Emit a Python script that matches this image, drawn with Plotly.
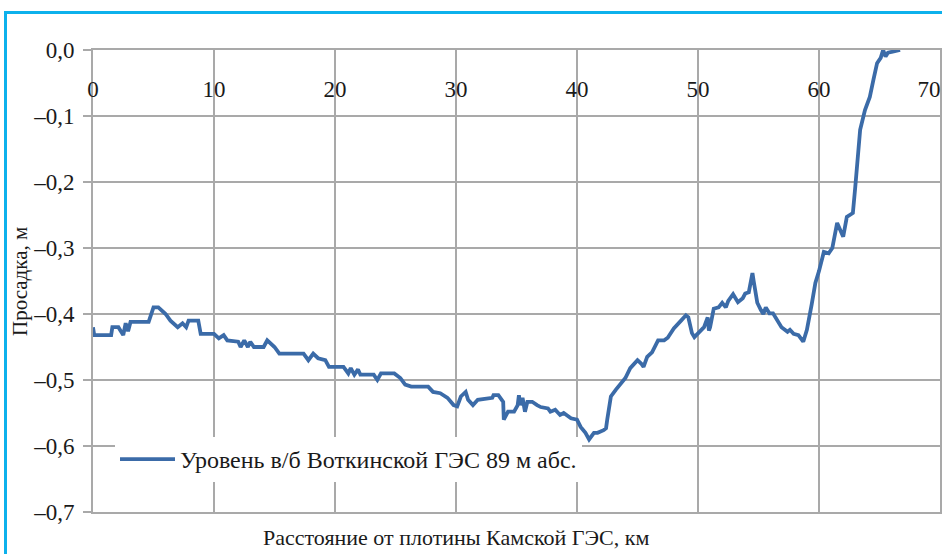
import plotly.graph_objects as go

# Distance from the Kama HPP dam, km
distance_km = [
    0.0, 0.1, 1.5, 1.6, 2.1, 2.5, 2.7, 2.9, 3.1, 4.6, 5.0, 5.4, 6.0, 6.4, 7.0, 7.4,
    7.7, 7.9, 8.7, 8.9, 10.0, 10.4, 10.8, 11.1, 12.0, 12.2, 12.5, 12.8, 13.0, 13.3,
    14.1, 14.4, 15.0, 15.4, 17.4, 17.8, 18.2, 18.6, 19.2, 19.5, 20.7, 21.1, 21.3,
    21.6, 21.9, 22.1, 23.2, 23.5, 23.8, 24.9, 25.4, 25.8, 26.3, 27.7, 28.1, 28.7,
    29.3, 29.8, 30.1, 30.4, 30.8, 31.0, 31.4, 31.8, 33.0, 33.1, 33.5, 33.9, 33.95,
    34.3, 34.8, 35.1, 35.2, 35.3, 35.5, 35.7, 35.9, 36.3, 36.7, 37.0, 37.6, 37.8,
    38.2, 38.6, 38.9, 39.5, 40.0, 40.3, 40.7, 41.0, 41.4, 41.7, 42.2, 42.4, 42.5,
    42.8, 43.2, 43.6, 44.0, 44.4, 45.0, 45.3, 45.5, 45.8, 46.2, 46.7, 47.2, 47.5,
    48.0, 48.6, 49.0, 49.2, 49.5, 49.7, 50.0, 50.5, 50.8, 50.9, 51.0, 51.3, 51.7,
    52.0, 52.3, 52.5, 52.9, 53.3, 53.7, 53.9, 54.2, 54.5, 54.6, 54.9, 55.2, 55.4,
    55.6, 55.9, 56.2, 56.6, 56.9, 57.4, 57.6, 57.9, 58.3, 58.7, 59.0, 59.4, 59.7,
    60.0, 60.4, 60.8, 61.1, 61.5, 61.8, 62.0, 62.3, 62.8, 63.0, 63.2, 63.4, 63.8,
    64.2, 64.5, 64.8, 65.1, 65.3, 65.5, 65.7, 66.0, 66.7,
]

# Drawdown of the level at the Votkinsk HPP headwater of 89 m abs., m
drawdown_m = [
    -0.420, -0.432, -0.432, -0.420, -0.420, -0.432, -0.414, -0.426, -0.412, -0.412,
    -0.390, -0.390, -0.400, -0.410, -0.420, -0.414, -0.420, -0.410, -0.410, -0.430,
    -0.430, -0.437, -0.432, -0.440, -0.442, -0.450, -0.440, -0.450, -0.442, -0.450,
    -0.450, -0.440, -0.450, -0.460, -0.460, -0.470, -0.460, -0.467, -0.470, -0.480,
    -0.480, -0.490, -0.482, -0.492, -0.484, -0.492, -0.492, -0.500, -0.490, -0.490,
    -0.497, -0.507, -0.510, -0.510, -0.518, -0.520, -0.527, -0.538, -0.540, -0.525,
    -0.518, -0.530, -0.538, -0.530, -0.527, -0.523, -0.523, -0.533, -0.560, -0.548,
    -0.548, -0.538, -0.523, -0.538, -0.527, -0.548, -0.533, -0.533, -0.538, -0.541,
    -0.543, -0.548, -0.545, -0.553, -0.550, -0.558, -0.560, -0.571, -0.580, -0.590,
    -0.580, -0.580, -0.576, -0.573, -0.560, -0.525, -0.515, -0.505, -0.497, -0.482,
    -0.470, -0.475, -0.480, -0.465, -0.458, -0.440, -0.440, -0.436, -0.422, -0.410,
    -0.402, -0.405, -0.429, -0.435, -0.430, -0.420, -0.405, -0.425, -0.420, -0.392,
    -0.390, -0.383, -0.390, -0.380, -0.370, -0.382, -0.376, -0.369, -0.367, -0.338,
    -0.350, -0.383, -0.394, -0.400, -0.390, -0.399, -0.399, -0.410, -0.420, -0.427,
    -0.424, -0.430, -0.432, -0.442, -0.424, -0.385, -0.353, -0.335, -0.306, -0.308,
    -0.300, -0.262, -0.277, -0.283, -0.253, -0.247, -0.207, -0.162, -0.121, -0.091,
    -0.071, -0.045, -0.020, -0.012, 0.000, -0.010, -0.004, -0.003, 0.000,
]

x_ticks = [0, 10, 20, 30, 40, 50, 60, 70]
y_ticks = [0.0, -0.1, -0.2, -0.3, -0.4, -0.5, -0.6, -0.7]
y_tick_labels = ["0,0", "–0,1", "–0,2", "–0,3", "–0,4", "–0,5", "–0,6", "–0,7"]

series_name = "Уровень в/б Воткинской ГЭС 89 м абс."
x_title = "Расстояние от плотины Камской ГЭС, км"
y_title = "Просадка, м"

FONT = "Liberation Serif"
TEXT = "#1a1a1a"
GRID = "#a9a9a9"
LINE = "#3b6ba8"

W, H = 942, 554
ml, mr, mt, mb = 93, 2, 50, 42
pw, ph = W - ml - mr, H - mt - mb


def px_x(px):
    return (px - ml) / pw


def px_y(py):
    return 1 - (py - mt) / ph


fig = go.Figure()
fig.add_trace(go.Scatter(
    x=distance_km, y=drawdown_m, mode="lines", name=series_name,
    line=dict(color=LINE, width=3.8),
))
# invisible companion traces that carry the distance labels on xaxis2 / xaxis3
for axis_ref in ("x2", "x3"):
    fig.add_trace(go.Scatter(
        x=[x_ticks[0], x_ticks[-1]], y=[y_ticks[0], y_ticks[0]], xaxis=axis_ref,
        mode="lines", line=dict(width=0), hoverinfo="skip", showlegend=False,
    ))

label_axis = dict(
    range=[0, 70], overlaying="x", side="bottom", anchor="free",
    position=px_y(73), ticks="", showgrid=False, showline=False,
    zeroline=False, ticklabeloverflow="allow", automargin=False,
    tickfont=dict(family=FONT, size=23, color=TEXT),
)

fig.update_layout(
    width=W, height=H,
    margin=dict(l=ml, r=mr, t=mt, b=mb, pad=0, autoexpand=False),
    paper_bgcolor="white", plot_bgcolor="white",
    font=dict(family=FONT, color=TEXT, size=22),
    showlegend=True,
    legend=dict(
        x=px_x(115), y=px_y(437), xanchor="left", yanchor="top",
        bgcolor="white", borderwidth=0, itemwidth=55,
        font=dict(family=FONT, size=24, color=TEXT),
    ),
    xaxis=dict(
        range=[0, 70], tickvals=x_ticks, showticklabels=False, ticks="",
        showgrid=True, gridcolor=GRID, gridwidth=2, automargin=False,
        showline=True, linecolor=GRID, linewidth=2, mirror=True,
        zeroline=False,
    ),
    # labels 0…60 centred on their grid lines
    xaxis2=dict(label_axis, tickvals=x_ticks[:-1]),
    # the last label is nudged left so it stays inside the frame
    xaxis3=dict(label_axis, tickvals=x_ticks[-1:], ticklabelshift=-11),
    yaxis=dict(
        range=[-0.7, 0.0], tickvals=y_ticks, ticktext=y_tick_labels,
        ticks="outside", ticklen=8, tickwidth=2, tickcolor=GRID,
        ticklabelstandoff=4, ticklabeloverflow="allow", automargin=False,
        showgrid=True, gridcolor=GRID, gridwidth=2,
        showline=True, linecolor=GRID, linewidth=2, mirror=True,
        zeroline=False, tickfont=dict(family=FONT, size=23, color=TEXT),
    ),
    annotations=[
        dict(text=x_title, xref="paper", yref="paper",
             x=px_x(456), y=px_y(537), xanchor="center", yanchor="middle",
             showarrow=False, font=dict(family=FONT, size=22, color=TEXT)),
        dict(text=y_title, xref="paper", yref="paper", textangle=-90,
             x=px_x(20), y=px_y(282), xanchor="center", yanchor="middle",
             showarrow=False, font=dict(family=FONT, size=21, color=TEXT)),
    ],
    shapes=[
        dict(type="rect", xref="paper", yref="paper", layer="above",
             x0=px_x(5.5), x1=px_x(960), y0=px_y(580), y1=px_y(12.5),
             line=dict(color="#0db1ec", width=3), fillcolor="rgba(0,0,0,0)"),
    ],
)

fig.write_html("out.html")
